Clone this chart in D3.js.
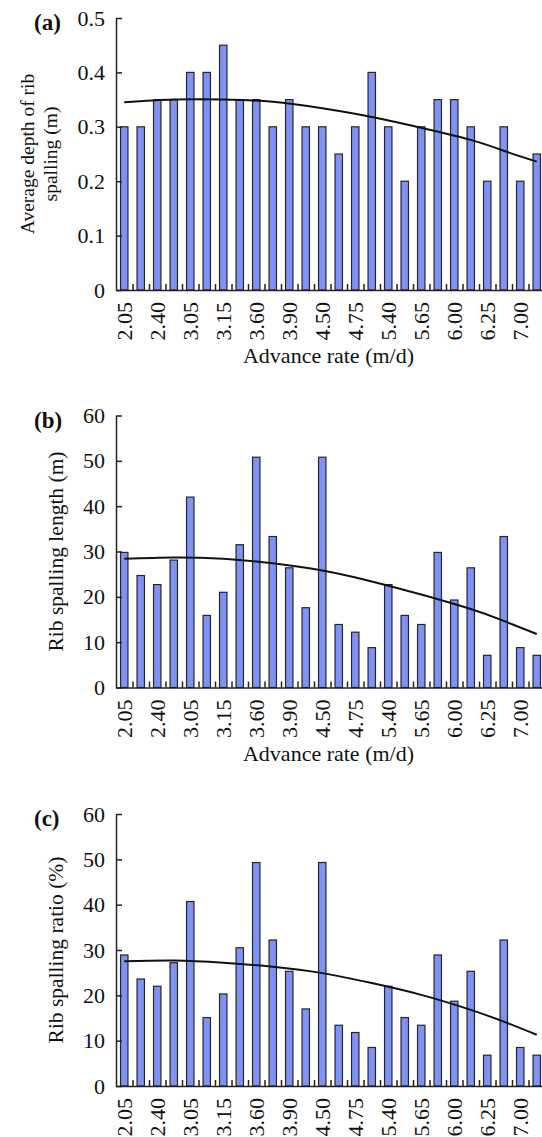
<!doctype html>
<html>
<head>
<meta charset="utf-8">
<style>
    body { margin: 0; background: #fff; }
    svg { display: block; font-family: "Liberation Serif", "Times New Roman", serif; }
    .bar { fill: #7f92f6; stroke: #262626; stroke-width: 1.2; }
    .trend { fill: none; stroke: #111; stroke-width: 2; }
    .axis path, .axis line { stroke: #222; stroke-width: 1.5; }
    .axis text { font-family: "Liberation Serif", "Times New Roman", serif; fill: #111; }
</style>
<script src="https://d3js.org/d3.v7.min.js"></script>
</head>
<body>
<svg width="542" height="1137"></svg>
<script>

    // 26 advance-rate groups, only every other one is labelled
    var cats = d3.range(1, 27);
    var tickLabels = ["2.05", "2.40", "3.05", "3.15", "3.60", "3.90", "4.50",
                      "4.75", "5.40", "5.65", "6.00", "6.25", "7.00"];

    var depth = [0.30, 0.30, 0.35, 0.35, 0.40, 0.40, 0.45, 0.35, 0.35, 0.30, 0.35, 0.30, 0.30,
                 0.25, 0.30, 0.40, 0.30, 0.20, 0.30, 0.35, 0.35, 0.30, 0.20, 0.30, 0.20, 0.25];
    var length = [29.8, 24.7, 22.7, 28.1, 42.0, 15.9, 21.0, 31.5, 50.8, 33.3, 26.4, 17.6, 50.8,
                  13.9, 12.2, 8.8, 22.7, 15.9, 13.9, 29.8, 19.3, 26.4, 7.1, 33.3, 8.8, 7.1];
    var ratio = [28.9, 23.6, 22.0, 27.2, 40.7, 15.1, 20.3, 30.5, 49.3, 32.2, 25.3, 17.0, 49.3,
                 13.4, 11.8, 8.5, 22.0, 15.1, 13.4, 28.9, 18.7, 25.3, 6.8, 32.2, 8.5, 6.8];

    // fitted trend curves at these groups
    var trendAt = [1, 4, 7, 10, 13, 16, 19, 22, 24, 26];
    var depthTrend = [0.345, 0.350, 0.350, 0.346, 0.334, 0.318, 0.298, 0.276, 0.256, 0.236];
    var lengthTrend = [28.4, 28.7, 28.4, 27.4, 25.8, 23.4, 20.5, 17.3, 14.7, 11.8];
    var ratioTrend = [27.5, 27.7, 27.2, 26.3, 24.9, 22.7, 20.1, 16.8, 14.2, 11.3];

    var panels = [
        {tag: "(a)", values: depth, trend: depthTrend, max: 0.5, ticks: d3.range(0, 0.51, 0.1),
         label: ["Average depth of rib", "spalling (m)"], labelSize: 19.5, top: 18, title: true},
        {tag: "(b)", values: length, trend: lengthTrend, max: 60, ticks: d3.range(0, 61, 10),
         label: ["Rib spalling length (m)"], labelSize: 21.5, top: 415.5, title: true},
        {tag: "(c)", values: ratio, trend: ratioTrend, max: 60, ticks: d3.range(0, 61, 10),
         label: ["Rib spalling ratio (%)"], labelSize: 21.5, top: 814, title: false}
    ];

    var svg = d3.select("svg"),
        left = 116,
        step = 16.5,
        right = left + step * cats.length,
        height = 272;

    var x = d3.scaleBand().domain(cats).range([left, right])
        .paddingInner(0.55).paddingOuter(0.275);
    var edge = d3.scaleLinear().domain([0, cats.length]).range([left, right]);

    panels.forEach(function(p) {
        var bottom = p.top + height;
        var y = d3.scaleLinear().domain([0, p.max]).range([bottom, p.top]);
        var g = svg.append("g");

        g.selectAll(".bar")
            .data(p.values)
            .enter().append("rect")
            .attr("class", "bar")
            .attr("x", function(d, i) { return x(cats[i]); })
            .attr("y", function(d) { return y(d); })
            .attr("width", x.bandwidth())
            .attr("height", function(d) { return bottom - y(d); });

        // x axis: short inward ticks between the groups
        g.append("g")
            .attr("class", "axis")
            .attr("transform", "translate(0," + bottom + ")")
            .call(d3.axisBottom(edge).tickValues(d3.range(1, cats.length))
                .tickSize(-6).tickSizeOuter(0).tickFormat(""));

        g.selectAll(".xlab")
            .data(tickLabels)
            .enter().append("text")
            .attr("class", "xlab")
            .attr("transform", function(d, i) {
                return "translate(" + (x(cats[i * 2]) + x.bandwidth() / 2) + "," + (bottom + 12) + ") rotate(-90)";
            })
            .attr("text-anchor", "end")
            .attr("dominant-baseline", "central")
            .attr("font-size", "22px")
            .attr("fill", "#111")
            .text(function(d) { return d; });

        // the last panel's title falls below the picture
        if (p.title) {
            g.append("text")
                .attr("x", (left + right) / 2 - 2)
                .attr("y", bottom + 73)
                .attr("text-anchor", "middle")
                .attr("font-size", "22px")
                .attr("fill", "#111")
                .text("Advance rate (m/d)");
        }

        // y axis
        g.append("g")
            .attr("class", "axis")
            .attr("transform", "translate(" + left + ",0)")
            .call(d3.axisLeft(y).tickValues(p.ticks).tickSize(-6).tickSizeOuter(0)
                .tickPadding(11).tickFormat(function(d) { return +d.toFixed(1); }))
            .selectAll("text")
            .attr("font-size", "22px");

        var lines = p.label.length;
        p.label.forEach(function(t, i) {
            var cx = lines === 2 ? 27 + i * 23 : 56;
            g.append("text")
                .attr("transform", "translate(" + cx + "," + (p.top + height / 2) + ") rotate(-90)")
                .attr("text-anchor", "middle")
                .attr("dominant-baseline", "central")
                .attr("font-size", p.labelSize + "px")
                .attr("fill", "#111")
                .text(t);
        });

        g.append("text")
            .attr("x", 34)
            .attr("y", p.top + 12)
            .attr("font-size", "23px")
            .attr("font-weight", "bold")
            .attr("fill", "#111")
            .text(p.tag);

        var line = d3.line()
            .x(function(d, i) { return x(trendAt[i]) + x.bandwidth() / 2; })
            .y(function(d) { return y(d); })
            .curve(d3.curveNatural);

        g.append("path")
            .datum(p.trend)
            .attr("class", "trend")
            .attr("d", line);
    });

</script>
</body>
</html>
